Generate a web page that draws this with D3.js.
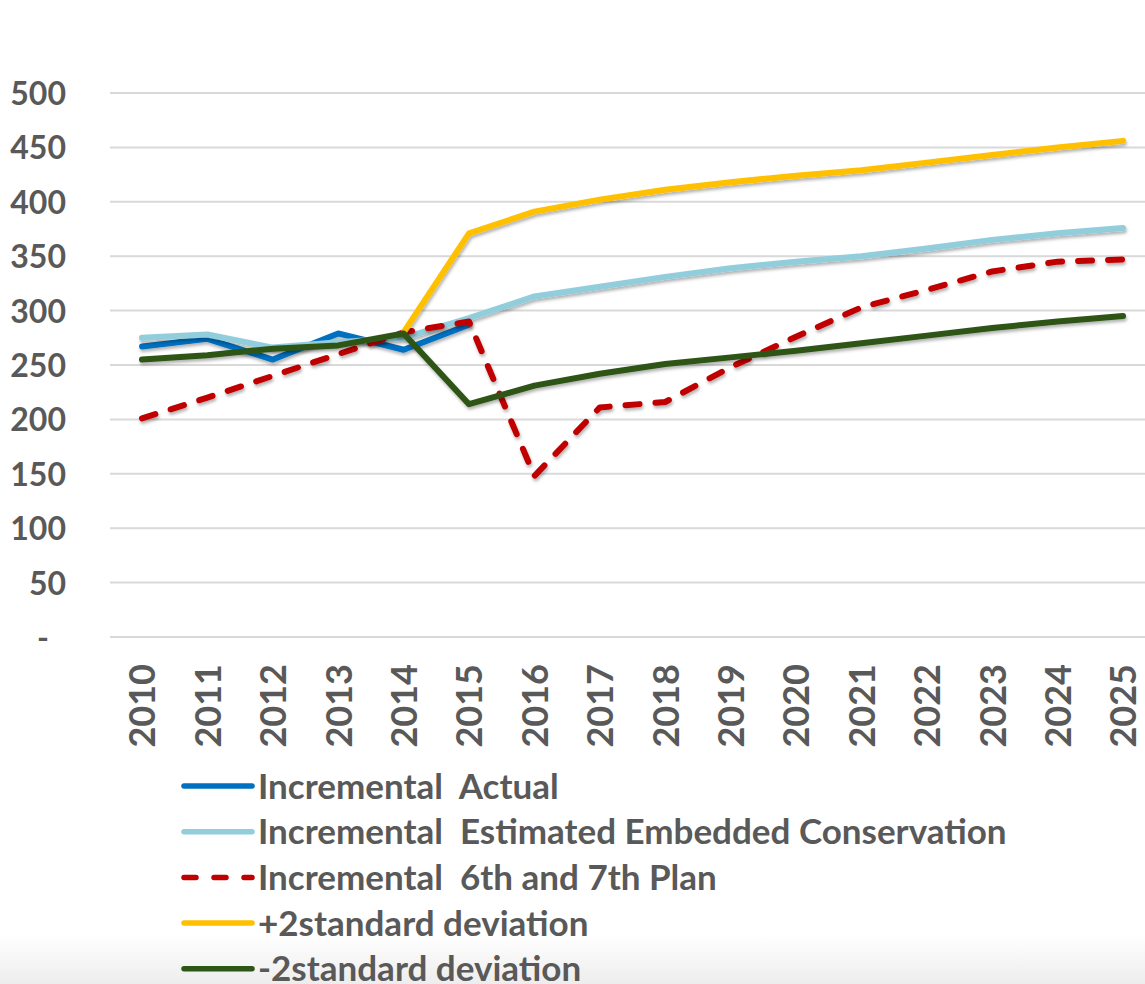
<!DOCTYPE html>
<html><head><meta charset="utf-8">
<script src="https://cdn.jsdelivr.net/npm/d3@7"></script>
<style>html,body{margin:0;padding:0;background:#fff;}svg{display:block;}</style>
</head><body>
<svg id="chart" width="1145" height="984"></svg>
<script>
const years = ["2010","2011","2012","2013","2014","2015","2016","2017","2018","2019","2020","2021","2022","2023","2024","2025"];
const actual    = [267, 274, 255, 279, 264, 287, null, null, null, null, null, null, null, null, null, null];
const embedded  = [275, 278, 266, 271, 275, 293, 313, 322, 331, 339, 345, 350, 357, 365, 371, 376];
const plan      = [201, 220, 240, 260, 280, 290, 148, 211, 216, 248, 276, 303, 319, 336, 345, 347];
const plus2sd   = [null, null, null, null, 280, 371, 391, 402, 411, 418, 424, 429, 436, 443, 450, 456];
const minus2sd  = [255, 259, 265, 268, 279, 214, 231, 242, 251, 257, 263, 270, 277, 284, 290, 295];
const yTicks = [0, 50, 100, 150, 200, 250, 300, 350, 400, 450, 500];
const seriesNames = ["Incremental  Actual", "Incremental  Estimated Embedded Conservation", "Incremental  6th and 7th Plan", "+2standard deviation", "-2standard deviation"];
const seriesColors = ["#0070c0", "#92cddc", "#c00000", "#ffc000", "#2d5516"];
const seriesDash = [null, null, "14,16", null, null];
const seriesData = [actual, embedded, plan, plus2sd, minus2sd];

const svg = d3.select("#chart");
const textColor = "#595959";
const font = "Lato, 'Open Sans', sans-serif";

const defs = svg.append("defs");
const grad = defs.append("linearGradient").attr("id","bg").attr("x1",0).attr("y1",0).attr("x2",0).attr("y2",1);
grad.append("stop").attr("offset","0").attr("stop-color","#ffffff");
grad.append("stop").attr("offset","1").attr("stop-color","#ededed");
const f = defs.append("filter").attr("id","sh").attr("x","-10%").attr("y","-10%").attr("width","120%").attr("height","130%");
f.append("feDropShadow").attr("dx",1).attr("dy",2.5).attr("stdDeviation",1.5).attr("flood-color","#000").attr("flood-opacity",0.3);

svg.append("rect").attr("x",0).attr("y",935).attr("width",1145).attr("height",49).attr("fill","url(#bg)");

const x = d3.scalePoint().domain(years).range([142, 1123]);
const y = d3.scaleLinear().domain([0, 500]).range([637, 93]);

// gridlines
svg.append("g").selectAll("line").data(yTicks).join("line")
  .attr("x1", 110).attr("x2", 1145)
  .attr("y1", d => y(d)).attr("y2", d => y(d))
  .attr("stroke", "#d9d9d9").attr("stroke-width", 2);

// y axis labels
const yAxis = d3.axisLeft(y).tickValues(yTicks).tickSize(0).tickPadding(0)
  .tickFormat(d => d === 0 ? "-" : d3.format("d")(d));
const ya = svg.append("g").attr("transform","translate(66,0)").call(yAxis);
ya.select(".domain").remove();
ya.selectAll("text").attr("font-family", font).attr("font-weight","bold").attr("font-size", 32)
  .attr("fill", textColor).attr("dy","0.36em");
ya.selectAll(".tick").filter(d => d === 0).select("text").attr("x", -17);

// x axis labels
const xAxis = d3.axisBottom(x).tickSize(0).tickPadding(0);
const xa = svg.append("g").attr("transform","translate(0,664)").call(xAxis);
xa.select(".domain").remove();
xa.selectAll("text").attr("font-family", font).attr("font-weight","bold").attr("font-size", 36)
  .attr("fill", textColor).attr("transform","rotate(-90)").attr("text-anchor","end")
  .attr("x", 0).attr("y", 0).attr("dy","0.36em").attr("dx", 0);

// lines
const line = d3.line().defined(d => d.v !== null).x(d => x(d.year)).y(d => y(d.v));
const g = svg.append("g");
seriesData.forEach((arr, i) => {
  const pts = years.map((yr, j) => ({year: yr, v: arr[j]}));
  g.append("path").datum(pts).attr("d", line).attr("fill","none")
    .attr("stroke", seriesColors[i]).attr("stroke-width", 6)
    .attr("stroke-linejoin","round").attr("stroke-linecap","round")
    .attr("stroke-dasharray", seriesDash[i])
    .attr("filter","url(#sh)");
});

// legend
const lg = svg.append("g");
seriesNames.forEach((name, i) => {
  const cy = 786 + i * 45.7;
  lg.append("line").attr("x1", 184).attr("x2", 252).attr("y1", cy).attr("y2", cy)
    .attr("stroke", seriesColors[i]).attr("stroke-width", 5.5).attr("stroke-linecap","round")
    .attr("stroke-dasharray", seriesDash[i] ? "12,18" : null);
  lg.append("text").attr("x", 258).attr("y", cy).attr("dy","0.36em")
    .attr("font-family", font).attr("font-weight","bold").attr("font-size", 35)
    .attr("fill", textColor).attr("xml:space","preserve").style("white-space","pre").text(name);
});
</script>
</body></html>
